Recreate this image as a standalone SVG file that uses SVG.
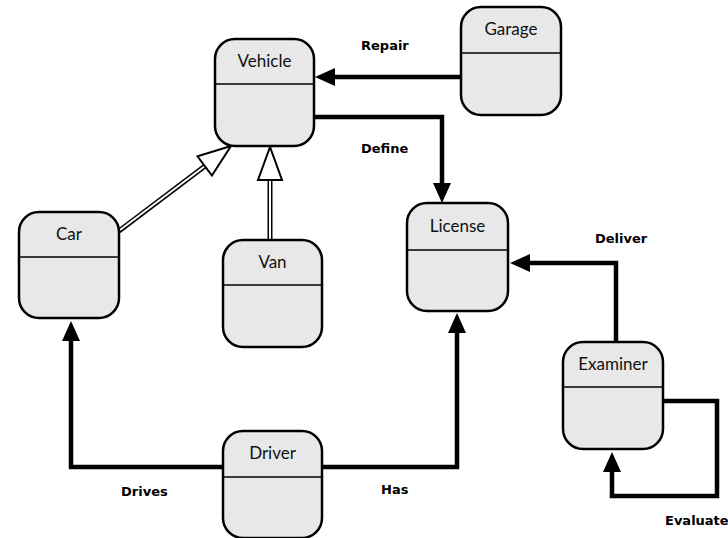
<svg xmlns="http://www.w3.org/2000/svg" width="728" height="538" viewBox="0 0 728 538">
<defs>
<style>
.box{fill:#e8e8e8;stroke:#000;stroke-width:2.5}
.div{stroke:#000;stroke-width:1.5}
.title{font-family:Lato,"Open Sans","DejaVu Sans",sans-serif;font-size:17px;fill:#111;text-anchor:middle}
.lbl{font-family:"DejaVu Sans",sans-serif;font-weight:bold;font-size:13px;fill:#000}
.conn{fill:none;stroke:#000;stroke-width:4.5;stroke-linejoin:miter}
.gen-o{fill:none;stroke:#000;stroke-width:5}
.gen-i{fill:none;stroke:#fff;stroke-width:2}
.tri{fill:#fff;stroke:#000;stroke-width:2;stroke-linejoin:miter}
</style>
<marker id="ah" markerUnits="userSpaceOnUse" markerWidth="24" markerHeight="22" viewBox="-3 -11 24 22" refX="0" refY="0" orient="auto">
<path d="M-2,-9 L18,0 L-2,9 z" fill="#000"/>
</marker>
</defs>
<rect width="728" height="538" fill="#fff"/>
<g id="connectors">
<path class="conn" d="M461,77 H333" marker-end="url(#ah)"/>
<path class="conn" d="M314,117 H442 V185" marker-end="url(#ah)"/>
<path class="conn" d="M616,342 V263 H528" marker-end="url(#ah)"/>
<path class="conn" d="M663,401 H717 V496 H612 V470" marker-end="url(#ah)"/>
<path class="conn" d="M322,467 H457 V331" marker-end="url(#ah)"/>
<path class="conn" d="M223,467 H71 V339" marker-end="url(#ah)"/>
<line class="gen-o" x1="119" y1="231" x2="205" y2="166"/>
<line class="gen-i" x1="120" y1="230" x2="205" y2="166"/>
<polygon class="tri" points="231,146 197.5,156.3 211.9,175.5"/>
<line class="gen-o" x1="270" y1="240" x2="270" y2="180"/>
<line class="gen-i" x1="270" y1="239" x2="270" y2="180"/>
<polygon class="tri" points="270,147 258,180 282,180"/>
<text class="lbl" x="361" y="50">Repair</text>
<text class="lbl" x="361" y="153">Define</text>
<text class="lbl" x="595" y="243">Deliver</text>
<text class="lbl" x="121" y="496">Drives</text>
<text class="lbl" x="381" y="494">Has</text>
<text class="lbl" x="665" y="525">Evaluate</text>
</g>
<g id="vehicle">
<rect class="box" x="215" y="39" width="99" height="107" rx="20"/>
<line class="div" x1="215" y1="84" x2="314" y2="84"/>
<text class="title" x="264.5" y="67">Vehicle</text>
</g>
<g id="garage">
<rect class="box" x="461" y="7" width="100" height="108" rx="20"/>
<line class="div" x1="461" y1="53" x2="561" y2="53"/>
<text class="title" x="511" y="35">Garage</text>
</g>
<g id="car">
<rect class="box" x="19" y="212" width="100" height="106" rx="20"/>
<line class="div" x1="19" y1="257" x2="119" y2="257"/>
<text class="title" x="69" y="240">Car</text>
</g>
<g id="van">
<rect class="box" x="223" y="240" width="99" height="107" rx="20"/>
<line class="div" x1="223" y1="285" x2="322" y2="285"/>
<text class="title" x="272.5" y="268">Van</text>
</g>
<g id="license">
<rect class="box" x="407" y="203" width="101" height="108" rx="20"/>
<line class="div" x1="407" y1="250" x2="508" y2="250"/>
<text class="title" x="457.5" y="232">License</text>
</g>
<g id="examiner">
<rect class="box" x="563" y="342" width="100" height="107" rx="20"/>
<line class="div" x1="563" y1="387" x2="663" y2="387"/>
<text class="title" x="613" y="370">Examiner</text>
</g>
<g id="driver">
<rect class="box" x="223" y="431" width="99" height="107" rx="20"/>
<line class="div" x1="223" y1="477" x2="322" y2="477"/>
<text class="title" x="272.5" y="459">Driver</text>
</g>
</svg>
